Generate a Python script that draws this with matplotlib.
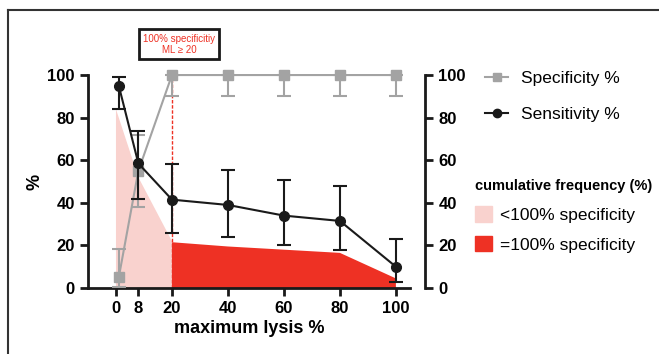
import numpy as np
import matplotlib
matplotlib.use("Agg")
import matplotlib.pyplot as plt
from matplotlib.lines import Line2D
from matplotlib.patches import Patch

plt.rcParams['font.family'] = ['Liberation Sans', 'DejaVu Sans']

# data
x_pts = [1, 8, 20, 40, 60, 80, 100]
sens = [95, 58.5, 41.5, 39, 34, 31.5, 10]
sens_lo = [84, 42, 26, 24, 20, 18, 3]
sens_hi = [99, 73.5, 58, 55.5, 50.5, 48, 23]
spec = [5, 55, 100, 100, 100, 100, 100]
spec_lo = [0.5, 38, 90, 90, 90, 90, 90]
spec_hi = [18.5, 72, 100, 100, 100, 100, 100]

pink_x = [0, 0, 8, 20, 20]
pink_y = [0, 84, 52, 22, 0]
red_x = [20, 20, 40, 60, 80, 100, 100]
red_y = [0, 21.5, 19.5, 18, 16.5, 4.5, 0]

xticks = [0, 8, 20, 40, 60, 80, 100]
yticks = [0, 20, 40, 60, 80, 100]

black = '#1a1a1a'
grey = '#a3a3a3'
pink = '#f9d2ce'
red = '#ee3124'

fig = plt.figure(figsize=(6.59, 3.54), dpi=100)
ax = fig.add_axes([0.1335, 0.1864, 0.622 - 0.1335, 0.788 - 0.1864])

ax.fill(pink_x, pink_y, color=pink, lw=0, zorder=1)
ax.fill(red_x, red_y, color=red, lw=0, zorder=1)
ax.axvline(20, ymin=0, ymax=1.0, color=red, ls=(0, (2.5, 1.2)), lw=1.0, zorder=2)

s = np.array(spec)
ax.errorbar(x_pts, spec, yerr=[s - np.array(spec_lo), np.array(spec_hi) - s],
            color=grey, marker='s', ms=7, lw=1.5, capsize=5, capthick=1.5,
            elinewidth=1.5, zorder=3, clip_on=False)
s = np.array(sens)
ax.errorbar(x_pts, sens, yerr=[s - np.array(sens_lo), np.array(sens_hi) - s],
            color=black, marker='o', ms=7, lw=1.5, capsize=5, capthick=1.5,
            elinewidth=1.5, zorder=4, clip_on=False)

ax.set_xlim(-10, 105)
ax.set_ylim(0, 100)
ax.set_xticks(xticks)
ax.set_yticks(yticks)
for sp in ['top', 'right']:
    ax.spines[sp].set_visible(False)
for sp in ['left', 'bottom']:
    ax.spines[sp].set_linewidth(2)
    ax.spines[sp].set_color(black)
ax.tick_params(width=2, length=6, labelsize=12, color=black)
for lab in ax.get_xticklabels() + ax.get_yticklabels():
    lab.set_fontweight('bold')
ax.set_xlabel('maximum lysis %', fontsize=13, fontweight='bold', labelpad=3)
ax.set_ylabel('%', fontsize=13, fontweight='bold', labelpad=3)

ax2 = ax.twinx()
ax2.set_ylim(0, 100)
ax2.set_yticks(yticks)
for sp in ['top', 'left', 'bottom']:
    ax2.spines[sp].set_visible(False)
ax2.spines['right'].set_position(('outward', 11))
ax2.spines['right'].set_linewidth(2)
ax2.spines['right'].set_color(black)
ax2.tick_params(width=2, length=6, labelsize=12, color=black)
for lab in ax2.get_yticklabels():
    lab.set_fontweight('bold')

# annotation box
ax.text(22.5, 114.5, '100% specificitiy\nML \u2265 20', color=red, fontsize=7,
        ha='center', va='center', linespacing=1.15,
        bbox=dict(boxstyle='square,pad=0.45', fc='white', ec=black, lw=2))

h1 = [Line2D([], [], color=grey, marker='s', ms=6, lw=1.5),
      Line2D([], [], color=black, marker='o', ms=6, lw=1.5)]
leg1 = fig.legend(h1, ['Specificity %', 'Sensitivity %'], loc='upper left',
                  bbox_to_anchor=(0.713, 0.845), frameon=False, fontsize=12.5,
                  handlelength=1.3, handletextpad=0.75, labelspacing=1.2)
h2 = [Patch(color=pink), Patch(color=red)]
leg2 = fig.legend(h2, ['<100% specificity', '=100% specificity'], loc='upper left',
                  bbox_to_anchor=(0.697, 0.538), frameon=False, fontsize=12.5,
                  title='cumulative frequency (%)',
                  title_fontproperties={'weight': 'bold', 'size': 10.5},
                  handlelength=1.0, handleheight=1.0, handletextpad=0.45,
                  labelspacing=0.75, alignment='left')

# outer frame
fig.add_artist(Line2D([0.012, 1.0], [0.972, 0.972], color='#333333', lw=1.5))
fig.add_artist(Line2D([0.012, 0.012], [0.0, 0.972], color='#333333', lw=1.5))

fig.savefig('out.png', dpi=100)
